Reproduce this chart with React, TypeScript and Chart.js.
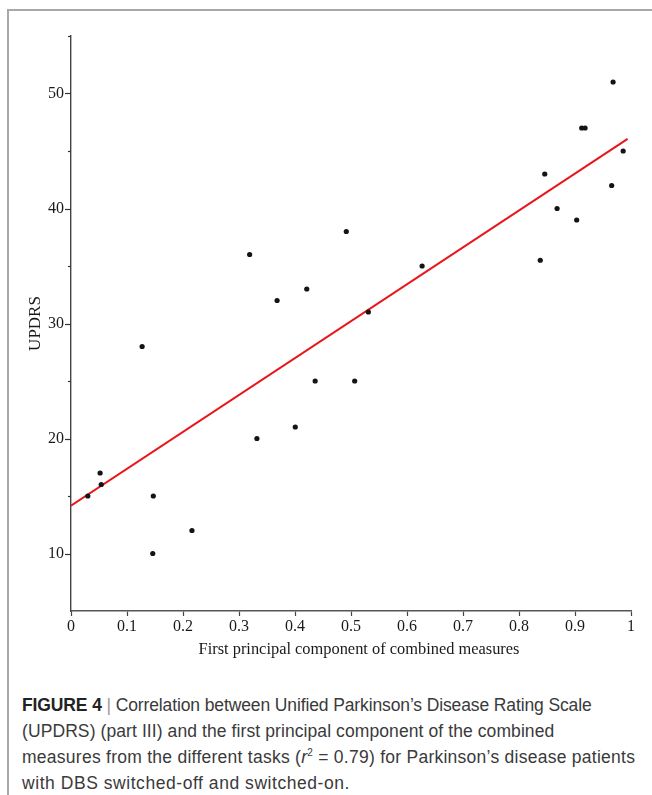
import React, { useEffect, useRef } from "react";
import { Chart, registerables } from "chart.js";

Chart.register(...registerables);

// First principal component of combined measures (x) vs UPDRS (y)
const pcValues = [
  0.03, 0.052, 0.054, 0.127, 0.147, 0.146, 0.216, 0.319, 0.332, 0.368, 0.4005,
  0.421, 0.436, 0.4916, 0.5066, 0.531, 0.627, 0.838, 0.846, 0.868, 0.903,
  0.912, 0.918, 0.9655, 0.968, 0.986,
];
const updrsValues = [
  15, 17, 16, 28, 15, 10, 12, 36, 20, 32, 21, 33, 25, 38, 25, 31, 35, 35.5, 43,
  40, 39, 47, 47, 42, 51, 45,
];
// Regression line endpoints
const fitX = [0, 0.994];
const fitY = [14.15, 46.05];

const xTicksMin = 0;
const xTicksMax = 1;
const yMin = 5;
const yMax = 55;

const xTitle = "First principal component of combined measures";
const yTitle = "UPDRS";

const serif = "'Liberation Serif', 'Times New Roman', serif";

const minorTickPlugin = {
  id: "minorTicks",
  afterDraw(chart: any) {
    const y = chart.scales.y;
    const x = chart.scales.x;
    const ctx = chart.ctx;
    ctx.save();
    ctx.strokeStyle = "#333";
    ctx.lineWidth = 1.2;
    for (const t of y.ticks) {
      const py = Math.round(y.getPixelForValue(t.value)) + 0.5;
      const major = t.value % 10 === 0;
      const len = major ? 6 : 3;
      if (t.value === yMin) continue;
      ctx.beginPath();
      ctx.moveTo(y.right, py);
      ctx.lineTo(y.right - len, py);
      ctx.stroke();
    }
    // x axis title (drawn slightly right of centre, as in the figure)
    ctx.fillStyle = "#1a1a1a";
    ctx.font = "16.4px " + serif;
    ctx.textAlign = "center";
    ctx.textBaseline = "middle";
    ctx.fillText(xTitle, (x.left + x.right) / 2 + 8, x.bottom - 30);
    ctx.restore();
  },
};

export default function App() {
  const ref = useRef<HTMLCanvasElement | null>(null);

  useEffect(() => {
    if (!ref.current) return;
    const chart = new Chart(ref.current, {
      type: "scatter",
      data: {
        datasets: [
          {
            label: "Patients",
            data: pcValues.map((x, i) => ({ x, y: updrsValues[i] })),
            backgroundColor: "#141414",
            borderColor: "#141414",
            pointRadius: 2.6,
            pointBorderWidth: 0,
            showLine: false,
          },
          {
            label: "Fit",
            data: fitX.map((x, i) => ({ x, y: fitY[i] })),
            showLine: true,
            borderColor: "#e8161b",
            borderWidth: 2,
            pointRadius: 0,
            fill: false,
          },
        ],
      },
      options: {
        animation: false,
        responsive: false,
        devicePixelRatio: 1,
        layout: { padding: { top: 36, right: 21, bottom: 0, left: 0 } },
        plugins: {
          legend: { display: false },
          tooltip: { enabled: false },
        },
        scales: {
          x: {
            type: "linear",
            min: xTicksMin,
            max: xTicksMax,
            afterFit: (s: any) => {
              s.height = 69;
            },
            grid: {
              display: true,
              drawOnChartArea: false,
              drawTicks: true,
              tickLength: 5,
              tickColor: "#444",
              tickWidth: 1.2,
            },
            border: { display: true, color: "#555", width: 1.6 },
            ticks: {
              stepSize: 0.1,
              padding: 1,
              color: "#1a1a1a",
              font: { family: serif, size: 16 },
              maxRotation: 0,
              callback: (v: any) => String(Math.round(Number(v) * 10) / 10),
            },
            title: { display: false, text: xTitle },
          },
          y: {
            type: "linear",
            min: yMin,
            max: yMax,
            afterFit: (s: any) => {
              s.width = 71;
            },
            grid: {
              display: true,
              drawOnChartArea: false,
              drawTicks: false,
            },
            border: { display: true, color: "#444", width: 1.4 },
            ticks: {
              stepSize: 5,
              padding: 7,
              color: "#1a1a1a",
              font: { family: serif, size: 16 },
              callback: (v: any) => (Number(v) % 10 === 0 ? String(v) : ""),
            },
            title: {
              display: true,
              text: yTitle,
              color: "#1a1a1a",
              font: { family: serif, size: 17 },
              padding: { top: 25, bottom: 0 },
            },
          },
        },
      },
      plugins: [minorTickPlugin],
    });
    return () => chart.destroy();
  }, []);

  const sans = "'Liberation Sans', Arial, Helvetica, sans-serif";

  return (
    <div
      style={{
        position: "fixed",
        left: 0,
        top: 0,
        width: "100vw",
        height: "100vh",
        overflow: "hidden",
        background: "#fff",
      }}
    >
      <div
        style={{
          position: "absolute",
          left: 7,
          top: 9,
          width: 800,
          height: 900,
          borderTop: "2px solid #a8a8a8",
          borderLeft: "2px solid #a8a8a8",
        }}
      />
      <canvas
        ref={ref}
        width={652}
        height={680}
        style={{ position: "absolute", left: 0, top: 0, width: 652, height: 680 }}
      />
      <div
        style={{
          position: "absolute",
          left: 22,
          top: 692,
          fontFamily: sans,
          fontSize: 17.5,
          lineHeight: "26px",
          color: "#3a3a3a",
          whiteSpace: "nowrap",
        }}
      >
        <div style={{ letterSpacing: "-0.12px" }}>
          <b style={{ color: "#222" }}>FIGURE 4</b>{" "}
          <span style={{ color: "#999" }}>|</span> Correlation between Unified
          Parkinson’s Disease Rating Scale
        </div>
        <div style={{ letterSpacing: "0.09px" }}>
          (UPDRS) (part III) and the first principal component of the combined
        </div>
        <div style={{ letterSpacing: "0.26px" }}>
          measures from the different tasks (<i>r</i>
          <sup style={{ fontSize: 10, lineHeight: 0 }}>2</sup> = 0.79) for
          Parkinson’s disease patients
        </div>
        <div style={{ letterSpacing: "0.55px" }}>
          with DBS switched-off and switched-on.
        </div>
      </div>
    </div>
  );
}
